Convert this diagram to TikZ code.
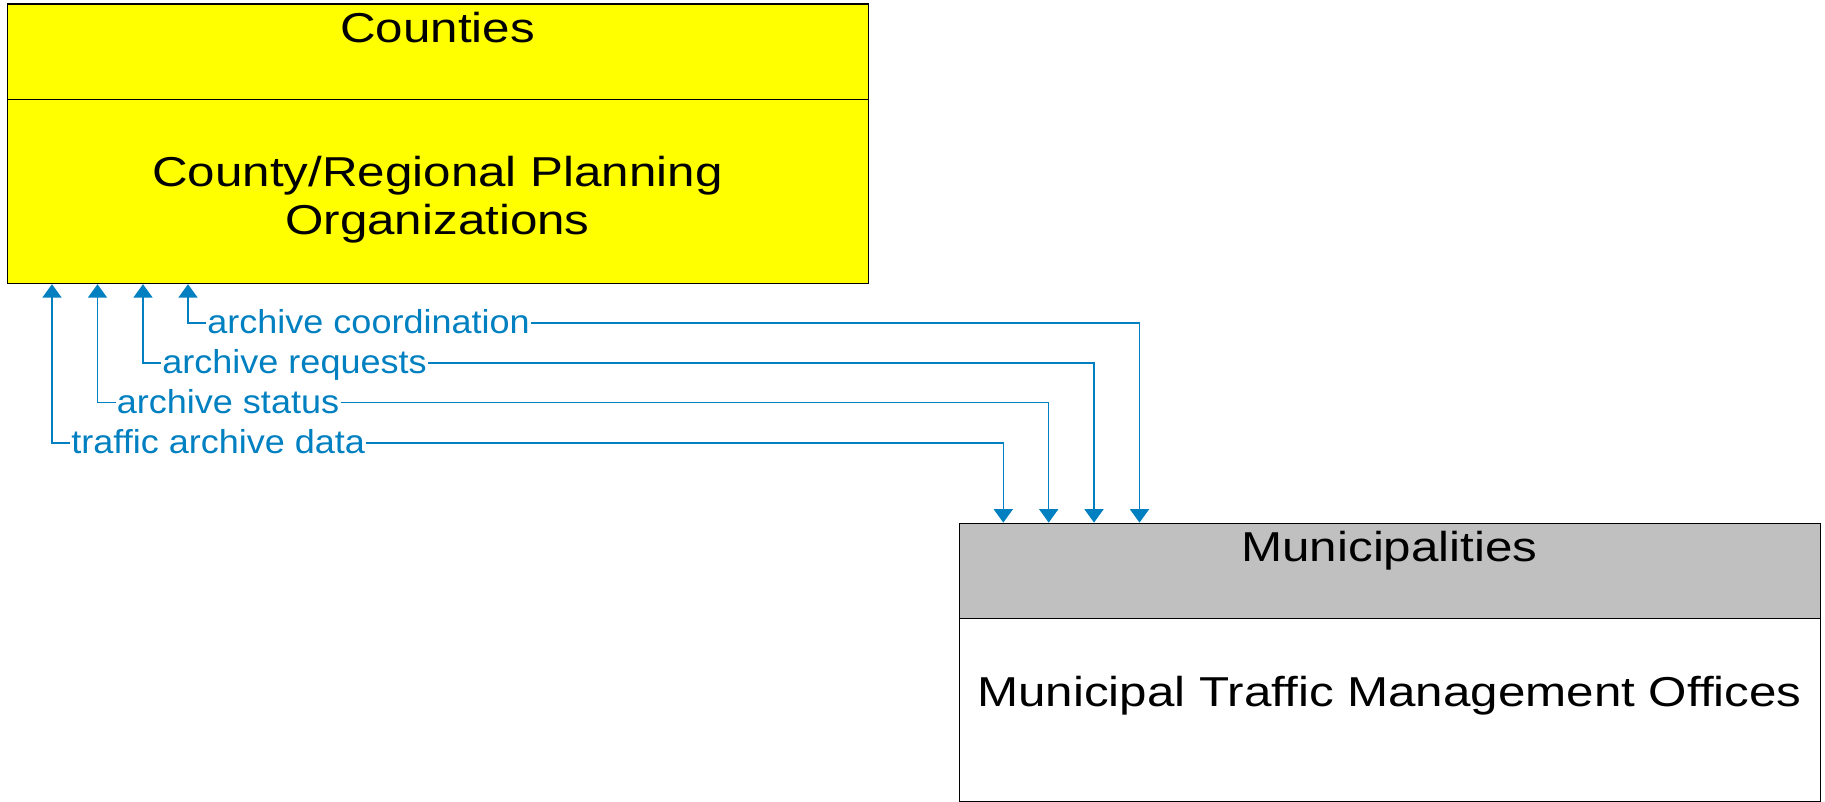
\documentclass[tikz,border=0pt]{standalone}
\usepackage{fontspec}
\setmainfont{Liberation Sans}
\newfontfamily\titlefont[FakeStretch=1.18]{Liberation Sans}
\newfontfamily\labelfont[FakeStretch=1.085]{Liberation Sans}
\usetikzlibrary{arrows.meta}
\definecolor{flowblue}{RGB}{0,128,192}
\definecolor{boxgray}{RGB}{192,192,192}
\definecolor{boxyellow}{RGB}{255,255,0}
\begin{document}
\begin{tikzpicture}[x=0.5pt,y=-0.5pt,
  boxpart/.style={draw=black, line width=0.6pt, inner sep=0pt, anchor=north west,
    minimum width=430.5pt},
  bandpart/.style={boxpart, minimum height=47.75pt},
  bodypart/.style={boxpart, minimum height=92pt},
  titletext/.style={inner sep=0pt, font=\titlefont\fontsize{20.9}{23.9}\selectfont, text=black},
  flowlabel/.style={inner sep=0.5pt, anchor=west, text=flowblue,
    font=\labelfont\fontsize{16.6}{19}\selectfont, text height=10.3pt, text depth=0pt},
  flow/.style={draw=flowblue, line width=0.65pt,
    arrows={-Triangle[width=9.5pt,length=6.7pt]}}
]
\useasboundingbox (0,0) rectangle (1825,802);

% Counties box
\node[bandpart, fill=boxyellow] (topband) at (7,3.5) {};
\node[bodypart, fill=boxyellow] (top) at (7,99) {};
\node[titletext, anchor=base] (topT) at (437.5,42.3) {Counties};
\node[titletext, align=center] (topN) at (437.5,199.3) {County/Regional Planning\\Organizations};

% Municipalities box
\node[bandpart, fill=boxgray] (bot) at (959,522.6) {};
\node[boxpart, minimum height=91.5pt, fill=white] (botbody) at (959,618) {};
\node[titletext, anchor=base] (botT) at (1389.5,561.4) {Municipalities};
\node[titletext, anchor=base] (botN) at (1389.5,706) {Municipal Traffic Management Offices};

% anchor columns
\coordinate (u1) at (188,0);
\coordinate (u2) at (143,0);
\coordinate (u3) at (97.5,0);
\coordinate (u4) at (52,0);
\coordinate (d1) at (1139.5,0);
\coordinate (d2) at (1094,0);
\coordinate (d3) at (1048.7,0);
\coordinate (d4) at (1003.3,0);

% labels
\node[flowlabel] (l1) at (206,323) {archive coordination};
\node[flowlabel] (l2) at (161,363) {archive requests};
\node[flowlabel] (l3) at (115.5,402.7) {archive status};
\node[flowlabel] (l4) at (70,443) {traffic archive data};

% flows
\foreach \i in {1,2,3,4}{
  \draw[flow] (l\i.west) -| (top.south -| u\i);
  \draw[flow] (l\i.east) -| (bot.north -| d\i);
}
\end{tikzpicture}
\end{document}
